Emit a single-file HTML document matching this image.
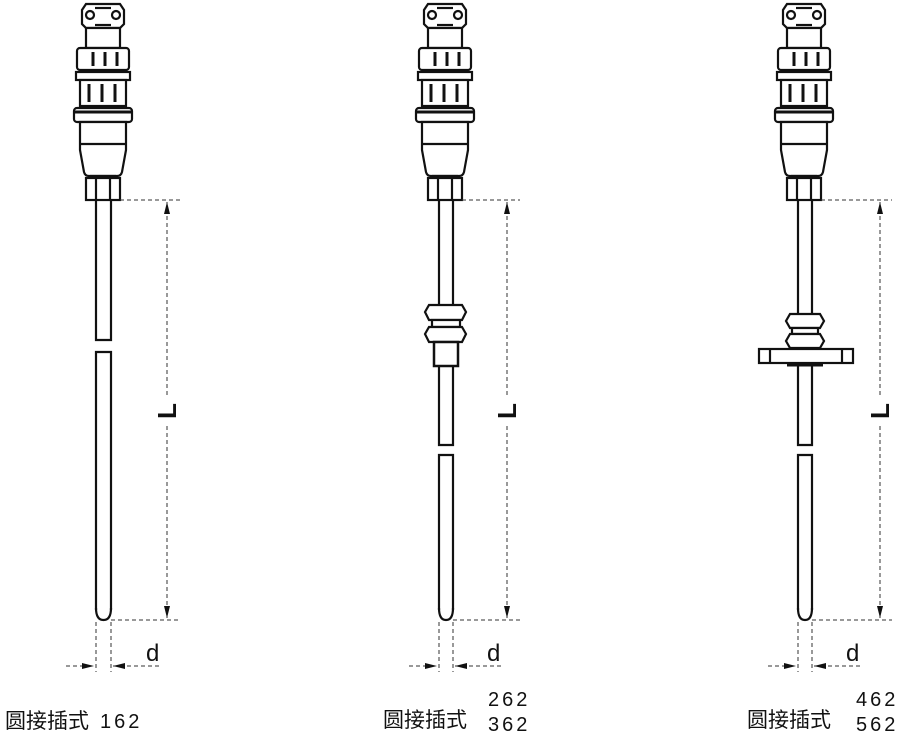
<!DOCTYPE html>
<html><head><meta charset="utf-8"><style>
html,body{margin:0;padding:0;background:#fff;width:908px;height:740px;overflow:hidden}
svg{display:block}
text{font-family:"Liberation Sans","Noto Sans CJK SC",sans-serif;fill:#111}
</style></head><body>
<svg width="908" height="740" viewBox="0 0 908 740" xmlns="http://www.w3.org/2000/svg">
<defs>
<g id="head" fill="#fff" stroke="#111" stroke-width="2.2">
  <path d="M-17,4 L17,4 L21,10 L21,24 L17,28 L-17,28 L-21,24 L-21,10 Z"/>
  <circle cx="-13" cy="15" r="4"/><circle cx="13" cy="15" r="4"/>
  <line x1="-8" y1="8" x2="8" y2="8"/><line x1="-8" y1="25" x2="8" y2="25"/>
  <rect x="-17" y="28" width="34" height="20"/>
  <rect x="-26" y="48" width="52" height="22" rx="3"/>
  <line x1="-10" y1="52" x2="-10" y2="66" stroke-width="3"/><line x1="2" y1="52" x2="2" y2="66" stroke-width="3"/><line x1="14" y1="52" x2="14" y2="66" stroke-width="3"/>
  <rect x="-27" y="72" width="54" height="8"/>
  <rect x="-23" y="80" width="46" height="26"/>
  <line x1="-14" y1="84" x2="-14" y2="102" stroke-width="3"/><line x1="-1" y1="84" x2="-1" y2="102" stroke-width="3"/><line x1="12" y1="84" x2="12" y2="102" stroke-width="3"/>
  <rect x="-29" y="108" width="58" height="14" rx="3"/>
  <line x1="-29" y1="112" x2="29" y2="112" stroke-width="3"/>
  <path d="M-23,122 L23,122 L23,150 L19,172 Q18,176 14,176 L-14,176 Q-18,176 -19,172 L-23,150 Z"/>
  <line x1="-23" y1="144" x2="23" y2="144"/>
  <rect x="-12" y="176" width="24" height="2"/>
  <rect x="-17" y="178" width="34" height="22"/>
  <line x1="-7" y1="178" x2="-7" y2="200"/><line x1="7" y1="178" x2="7" y2="200"/>
</g>
<marker id="ah" viewBox="0 0 10 10" refX="10" refY="5" markerWidth="12" markerHeight="12" markerUnits="userSpaceOnUse" orient="auto-start-reverse"><path d="M0,2.5 L10,5 L0,7.5 Z" fill="#111"/></marker>
</defs>

<use href="#head" x="103" y="0"/>
<use href="#head" x="445" y="0"/>
<use href="#head" x="804" y="0"/>

<g fill="none" stroke="#111" stroke-width="2.2">
  <path d="M96,200 V340 H111 V200"/>
  <path d="M96,610 V352 H111 V610"/>
  <path d="M96,608 Q96,620 103.5,620 Q111,620 111,608"/>
  <path d="M439,200 V305 M453,200 V305"/>
  <path d="M439,365 V445 H453 V365"/>
  <path d="M439,610 V455 H453 V610"/>
  <path d="M439,608 Q439,620 446,620 Q453,620 453,608"/>
  <path d="M429,305 H462 L466,312 L462,320 H429 L425,312 Z" fill="#fff"/>
  <rect x="432" y="320" width="28" height="7" fill="#fff"/>
  <path d="M429,327 H462 L466,334 L462,342 H429 L425,334 Z" fill="#fff"/>
  <rect x="434" y="342" width="24" height="24" fill="#fff" stroke-width="2.5"/>
  <path d="M798,200 V313 M812,200 V313"/>
  <path d="M798,365 V445 H812 V365"/>
  <path d="M798,610 V455 H812 V610"/>
  <path d="M798,608 Q798,620 805,620 Q812,620 812,608"/>
  <path d="M790,314 H820 L824,321 L820,328 H790 L786,321 Z" fill="#fff"/>
  <rect x="792" y="328" width="26" height="6" fill="#fff"/>
  <path d="M790,334 H820 L824,341 L820,348 H790 L786,341 Z" fill="#fff"/>
  <rect x="759" y="349" width="94" height="14" fill="#fff"/>
  <line x1="770" y1="349" x2="770" y2="363"/><line x1="842" y1="349" x2="842" y2="363"/>
  <line x1="787" y1="365" x2="823" y2="365" stroke-width="3"/>
</g>

<g fill="none" stroke="#333" stroke-width="1" stroke-dasharray="4,3">
  <line x1="120" y1="200" x2="180" y2="200"/><line x1="111" y1="620" x2="180" y2="620"/>
  <line x1="167" y1="202" x2="167" y2="396" marker-start="url(#ah)"/>
  <line x1="167" y1="426" x2="167" y2="618" marker-end="url(#ah)"/>
  <line x1="96" y1="622" x2="96" y2="672"/><line x1="111" y1="622" x2="111" y2="672"/>
  <line x1="66" y1="666" x2="94" y2="666" marker-end="url(#ah)"/>
  <line x1="113" y1="666" x2="160" y2="666" marker-start="url(#ah)"/>

  <line x1="462" y1="200" x2="520" y2="200"/><line x1="453" y1="620" x2="520" y2="620"/>
  <line x1="507" y1="202" x2="507" y2="396" marker-start="url(#ah)"/>
  <line x1="507" y1="426" x2="507" y2="618" marker-end="url(#ah)"/>
  <line x1="439" y1="622" x2="439" y2="672"/><line x1="453" y1="622" x2="453" y2="672"/>
  <line x1="409" y1="666" x2="437" y2="666" marker-end="url(#ah)"/>
  <line x1="455" y1="666" x2="502" y2="666" marker-start="url(#ah)"/>

  <line x1="821" y1="200" x2="892" y2="200"/><line x1="812" y1="620" x2="892" y2="620"/>
  <line x1="880" y1="202" x2="880" y2="396" marker-start="url(#ah)"/>
  <line x1="880" y1="426" x2="880" y2="618" marker-end="url(#ah)"/>
  <line x1="798" y1="622" x2="798" y2="672"/><line x1="812" y1="622" x2="812" y2="672"/>
  <line x1="768" y1="666" x2="796" y2="666" marker-end="url(#ah)"/>
  <line x1="814" y1="666" x2="862" y2="666" marker-start="url(#ah)"/>
</g>

<g font-size="26" font-weight="bold" style="font-family:'Liberation Serif',serif">
<text x="167" y="411" text-anchor="middle" transform="rotate(-90 167 411)" dy="9">L</text>
<text x="507" y="411" text-anchor="middle" transform="rotate(-90 507 411)" dy="9">L</text>
<text x="880" y="411" text-anchor="middle" transform="rotate(-90 880 411)" dy="9">L</text>
</g>
<g font-size="24" style="font-family:'Liberation Serif',serif">
<text x="146" y="661">d</text>
<text x="487" y="661">d</text>
<text x="846" y="661">d</text>
</g>

<text x="5" y="728" font-size="21">圆接插式</text>
<text x="100" y="728" font-size="20" letter-spacing="3">162</text>
<text x="383" y="727" font-size="21">圆接插式</text>
<text x="488" y="706" font-size="20" letter-spacing="3">262</text>
<text x="488" y="731" font-size="20" letter-spacing="3">362</text>
<text x="747" y="727" font-size="21">圆接插式</text>
<text x="856" y="706" font-size="20" letter-spacing="3">462</text>
<text x="856" y="731" font-size="20" letter-spacing="3">562</text>
</svg>
</body></html>
